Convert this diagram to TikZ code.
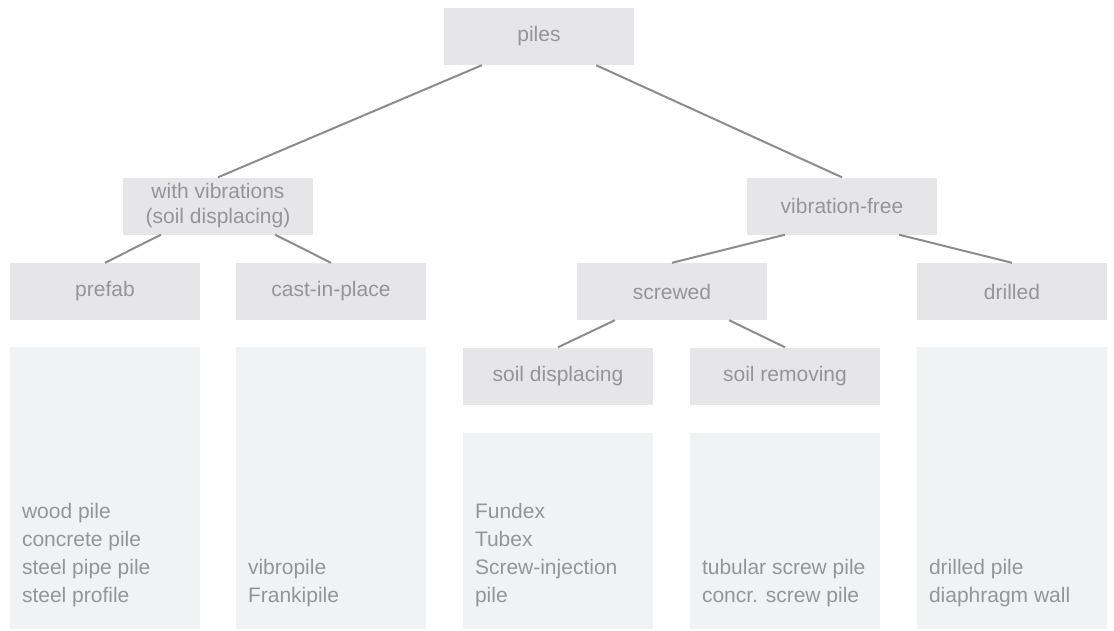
\documentclass[tikz,border=0pt]{standalone}
\usepackage{fontspec}
\setmainfont{Liberation Sans}
\usetikzlibrary{positioning,calc}
\definecolor{boxgray}{HTML}{E6E6E8}
\definecolor{listgray}{HTML}{F1F2F4}
\definecolor{txtgray}{HTML}{959597}
\definecolor{linegray}{HTML}{8C8C8C}
\begin{document}
\begin{tikzpicture}[x=1pt, y=-1pt,
  font=\fontsize{21}{28}\selectfont,
  cat/.style={rectangle, fill=boxgray, text=txtgray, minimum width=190pt, minimum height=57pt, inner sep=0pt},
  listbox/.style={rectangle, fill=listgray, minimum width=190pt, inner sep=0pt},
  listtext/.style={text=txtgray, align=left, inner sep=0pt},
  conn/.style={draw=linegray, line width=2pt}]
\useasboundingbox (0,0) rectangle (1114,630);

% categorie
\node[cat] (piles) at (539,36.5) {piles};
\node[cat, font=\fontsize{21}{25}\selectfont, align=center] (withvib) at (218,206) {with vibrations\\(soil displacing)};
\node[cat] (vibfree) at (842,206) {vibration-free};
\node[cat] (prefab) at (105,291.5) {prefab};
\node[cat] (cast) at (331,291.5) {cast-in-place};
\node[cat] (screwed) at (672,291.5) {screwed};
\node[cat] (drilled) at (1012,291.5) {drilled};
\node[cat] (soildisp) at (558,376) {soil displacing};
\node[cat] (soilrem) at (785,376) {soil removing};

% collegamenti
\draw[conn] ($(piles.south)!0.6!(piles.south west)$) -- (withvib.north);
\draw[conn] ($(piles.south)!0.6!(piles.south east)$) -- (vibfree.north);
\draw[conn] ($(withvib.south)!0.6!(withvib.south west)$) -- (prefab.north);
\draw[conn] ($(withvib.south)!0.6!(withvib.south east)$) -- (cast.north);
\draw[conn] ($(vibfree.south)!0.6!(vibfree.south west)$) -- (screwed.north);
\draw[conn] ($(vibfree.south)!0.6!(vibfree.south east)$) -- (drilled.north);
\draw[conn] ($(screwed.south)!0.6!(screwed.south west)$) -- (soildisp.north);
\draw[conn] ($(screwed.south)!0.6!(screwed.south east)$) -- (soilrem.north);

% elenchi
\node[listbox, minimum height=282pt] (prefablist) at (105,488) {};
\node[listbox, minimum height=282pt] (castlist) at (331,488) {};
\node[listbox, minimum height=196pt] (displist) at (558,531) {};
\node[listbox, minimum height=196pt] (remlist) at (785,531) {};
\node[listbox, minimum height=282pt] (drilledlist) at (1012,488) {};

\node[listtext, above right=22pt and 12pt of prefablist.south west] (prefabtxt)
  {wood pile\\concrete pile\\steel pipe pile\\steel profile};
\node[listtext, above right=22pt and 12pt of castlist.south west] (casttxt)
  {vibropile\\Frankipile};
\node[listtext, above right=22pt and 12pt of displist.south west] (disptxt)
  {Fundex\\Tubex\\Screw-injection\\pile};
\node[listtext, above right=22pt and 12pt of remlist.south west] (remtxt)
  {tubular screw pile\\concr. screw pile};
\node[listtext, above right=22pt and 12pt of drilledlist.south west] (drilledtxt)
  {drilled pile\\diaphragm wall};

\end{tikzpicture}
\end{document}
